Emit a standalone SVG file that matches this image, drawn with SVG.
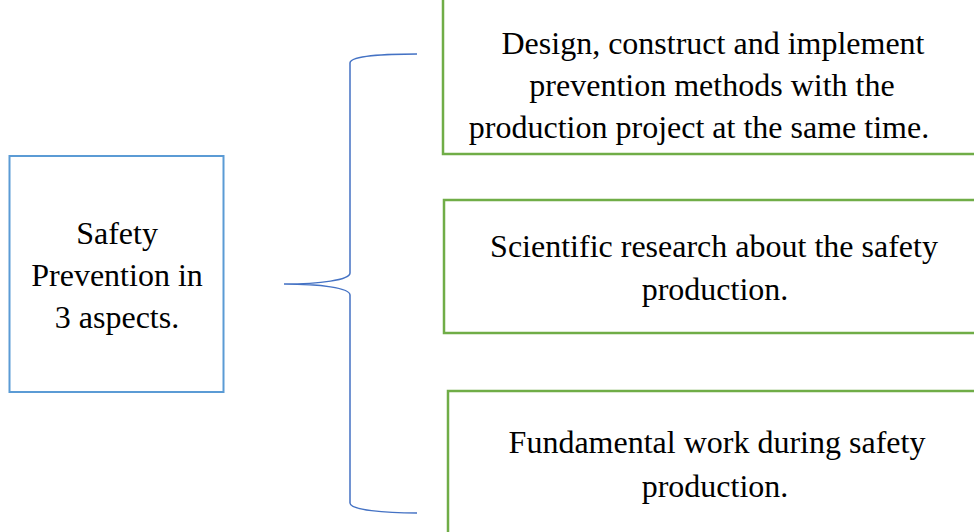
<svg xmlns="http://www.w3.org/2000/svg" width="974" height="532" viewBox="0 0 974 532">
  <defs>
    <rect id="item-box" width="545" height="160" fill="#fff" stroke="#70AD47" stroke-width="2.5"/>
  </defs>
  <rect width="974" height="532" fill="#fff"/>

  <!-- left node: blue outlined box -->
  <g id="safety-prevention">
    <rect x="9.5" y="156" width="214" height="236" fill="#fff" stroke="#5B9BD5" stroke-width="2"/>
    <text x="117" y="244" font-family="Liberation Serif, serif" font-size="32" text-anchor="middle">Safety</text>
    <text x="117" y="286" font-family="Liberation Serif, serif" font-size="32" text-anchor="middle">Prevention in</text>
    <text x="117" y="328" font-family="Liberation Serif, serif" font-size="32" text-anchor="middle">3 aspects.</text>
  </g>

  <!-- right nodes: green outlined boxes -->
  <g id="design-construct">
    <rect x="443" y="-10" width="545" height="164" fill="#fff" stroke="#70AD47" stroke-width="2.5"/>
    <text x="713" y="54" font-family="Liberation Serif, serif" font-size="32" text-anchor="middle">Design, construct and implement</text>
    <text x="712" y="96" font-family="Liberation Serif, serif" font-size="32" text-anchor="middle">prevention methods with the</text>
    <text x="699" y="138" font-family="Liberation Serif, serif" font-size="32" text-anchor="middle">production project at the same time.</text>
  </g>

  <g id="scientific-research">
    <rect x="444" y="200" width="545" height="133" fill="#fff" stroke="#70AD47" stroke-width="2.5"/>
    <text x="714" y="257" font-family="Liberation Serif, serif" font-size="32" text-anchor="middle">Scientific research about the safety</text>
    <text x="715" y="300" font-family="Liberation Serif, serif" font-size="32" text-anchor="middle">production.</text>
  </g>

  <g id="fundamental-work">
    <use href="#item-box" x="448" y="391"/>
    <text x="717" y="453" font-family="Liberation Serif, serif" font-size="32" text-anchor="middle">Fundamental work during safety</text>
    <text x="715" y="497" font-family="Liberation Serif, serif" font-size="32" text-anchor="middle">production.</text>
  </g>

  <!-- curly brace joining the left node to the three right nodes -->
  <g id="connectors">
    <path d="M417,54 C385,54 350,56 350,63 L350,273 C350,280 320,284 284,284 C320,284 350,288 350,295 L350,503 C350,510 385,513 417,513" fill="none" stroke="#4472C4" stroke-width="1.5"/>
  </g>
</svg>
